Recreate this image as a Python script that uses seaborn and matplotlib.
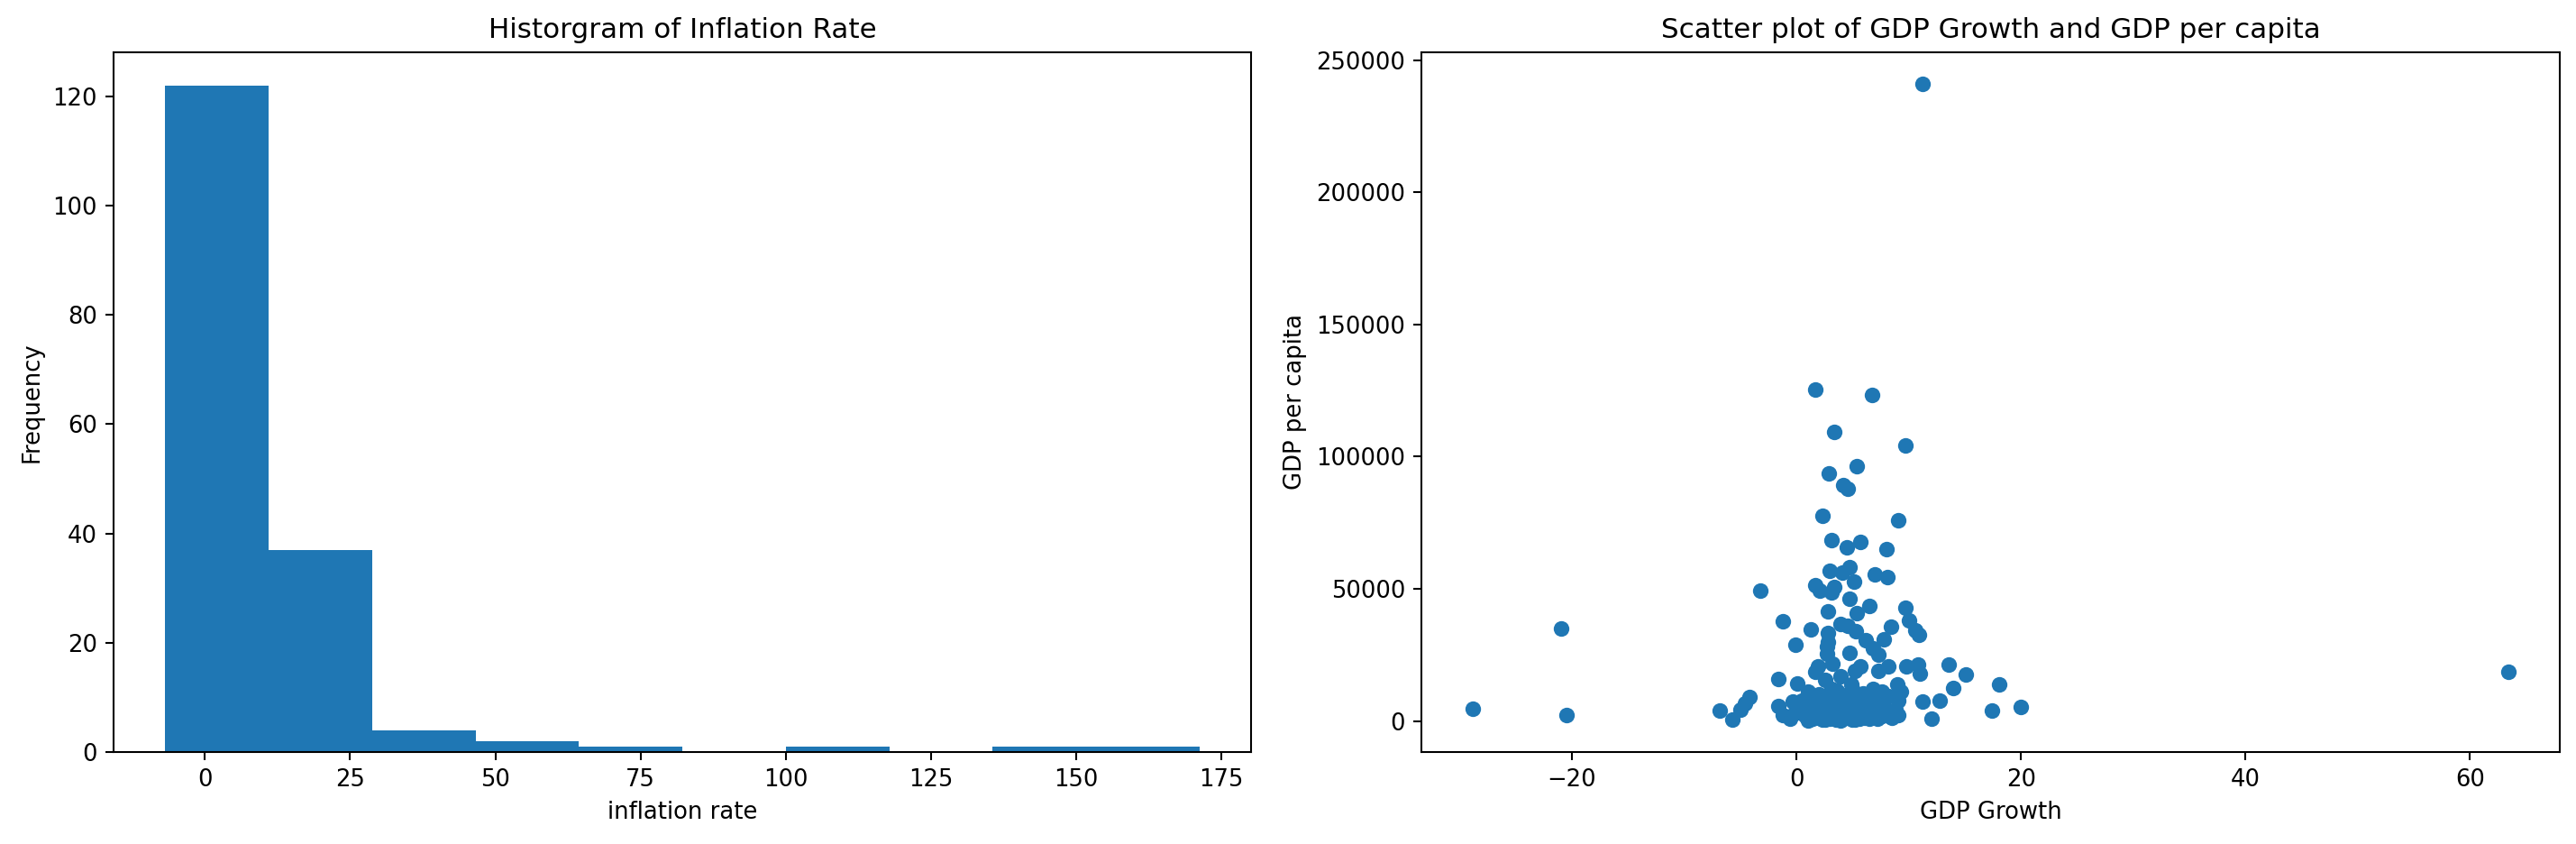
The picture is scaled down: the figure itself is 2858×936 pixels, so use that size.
import numpy as np
import pandas as pd
import matplotlib
matplotlib.use("Agg")
import matplotlib.pyplot as plt
import seaborn as sns

# histogram of inflation rate (bin edges and counts)
inflation_bin_edges = [-6.8, 11.0, 28.8, 46.6, 64.4, 82.2, 100.0, 117.8, 135.6, 153.4, 171.2]
inflation_counts = [122, 37, 4, 2, 1, 0, 1, 0, 1, 1]

# scatter of GDP growth vs GDP per capita
gdp_growth = [
    -28.8, -21.0, -20.5, 63.4, 11.2,
    1.7, 6.7, 3.4, 9.7, 5.4, 2.9, 4.2, 4.6, 2.3, 9.1,
    3.1, 4.5, 5.7, 8.0, 3.0, 4.7, 4.1, 5.1, 7.0, 8.1,
    1.7, 2.1, 3.4, 3.1, -3.2, 4.7, 6.5, 5.4, 2.8, 9.7,
    10.0, 10.6, 10.9, -1.2, 1.3, 3.9, 4.6, 8.4, 7.8, 2.8,
    5.3, 6.2, -0.1, 2.7, 4.7, 6.8, 7.3, 2.7, 1.9, 3.2,
    5.7, 5.2, 7.3, 8.2, 9.8, 10.8, 11.0, 13.6, 15.1, 18.1,
    14.0, 17.4, 20.0, 12.8, 11.2, 12.0, -1.6, 0.1, -4.2, -4.6,
    -5.0, -6.8, -5.7, 9.0, 9.3, 9.1, 9.1, 8.4, -1.6, -1.2,
    -0.6, -0.3, 0.5, 1.0, 2.1, 2.6, 3.9, 4.9, 3.1, 2.6,
    3.9, 5.2, 6.8, 7.6, 6.0, 7.0, 3.1, 1.9, 4.2, 2.8,
    1.7,
    0.6, 0.9, 1.2, 1.4, 1.6, 1.8, 2.0, 2.2, 2.3, 2.4,
    2.5, 2.7, 2.8, 2.9, 3.0, 3.1, 3.2, 3.3, 3.4, 3.5,
    3.6, 3.7, 3.8, 3.9, 4.0, 4.1, 4.2, 4.3, 4.4, 4.5,
    4.6, 4.7, 4.8, 4.9, 5.0, 5.1, 5.2, 5.3, 5.4, 5.5,
    5.6, 5.7, 5.8, 5.9, 6.0, 6.1, 6.3, 6.4, 6.5, 6.6,
    6.8, 6.9, 7.0, 7.2, 7.4, 7.6, 7.8, 8.0, 8.2, 8.5,
    8.8, 1.0, 1.5, 0.3, -0.2, 0.8, 2.0, 6.2, 7.5, 3.6,
    5.0,
]
gdp_per_capita = [
    4600, 35000, 2300, 18500, 241000,
    125300, 123300, 109300, 104200, 96500, 93800, 89200, 88000, 77800, 75800,
    68300, 65600, 67600, 64900, 56700, 58100, 56200, 52600, 55600, 54300,
    51400, 49200, 50600, 48600, 49200, 46300, 43400, 40700, 41500, 43000,
    38200, 34400, 32500, 37600, 34700, 36700, 35900, 35600, 30800, 33300,
    33900, 30500, 28800, 28200, 25900, 27600, 25000, 25400, 20800, 21800,
    20800, 19100, 19100, 20800, 20800, 21400, 17800, 21400, 17700, 13700,
    12600, 4000, 5400, 7800, 7500, 1000, 16000, 14300, 9000, 6700,
    4400, 4100, 400, 13700, 11200, 7800, 2400, 1600, 5600, 2200,
    1000, 7300, 7800, 300, 9000, 15700, 16900, 14000, 12300, 600,
    300, 600, 12300, 11200, 6700, 4400, 5600, 4400, 6700, 30000,
    18500,
    2500, 1500, 3200, 800, 2100, 6200, 1200, 3600, 700, 5200,
    2300, 1700, 8200, 3000, 900, 4100, 1400, 2600, 7200, 600,
    1900, 3400, 5000, 1100, 2400, 9600, 800, 3800, 1600, 5800,
    2900, 1200, 4500, 2000, 700, 7900, 3300, 1500, 5400, 2500,
    900, 4000, 1800, 10500, 3000, 1300, 6000, 2200, 800, 4800,
    1600, 8800, 2700, 1000, 3600, 1900, 5500, 2400, 9500, 1200,
    4200, 11000, 9500, 4200, 2800, 6000, 10200, 9200, 7000, 11500,
    12000,
]

blue = "#1f77b4"

bin_centers = [(a + b) / 2 for a, b in zip(inflation_bin_edges[:-1], inflation_bin_edges[1:])]
hist_df = pd.DataFrame({"inflation rate": bin_centers, "count": inflation_counts})
scatter_df = pd.DataFrame({"GDP Growth": gdp_growth, "GDP per capita": gdp_per_capita})

dpi = 186
fig = plt.figure(figsize=(2858 / dpi, 936 / dpi), dpi=dpi)
ax1 = fig.add_axes([0.0441, 0.109, 0.4416, 0.8291])
ax2 = fig.add_axes([0.5518, 0.109, 0.4419, 0.8291])

# left: histogram
sns.histplot(data=hist_df, x="inflation rate", weights="count", bins=inflation_bin_edges,
             color=blue, alpha=1, linewidth=0, ax=ax1)
ax1.set_title("Historgram of Inflation Rate")
ax1.set_xlabel("inflation rate")
ax1.set_ylabel("Frequency")

# right: scatter
sns.scatterplot(data=scatter_df, x="GDP Growth", y="GDP per capita",
                color=blue, s=45, linewidth=0, alpha=1, ax=ax2)
ax2.set_title("Scatter plot of GDP Growth and GDP per capita")
ax2.set_xlabel("GDP Growth")
ax2.set_ylabel("GDP per capita")

fig.savefig("out.png", dpi=dpi)
